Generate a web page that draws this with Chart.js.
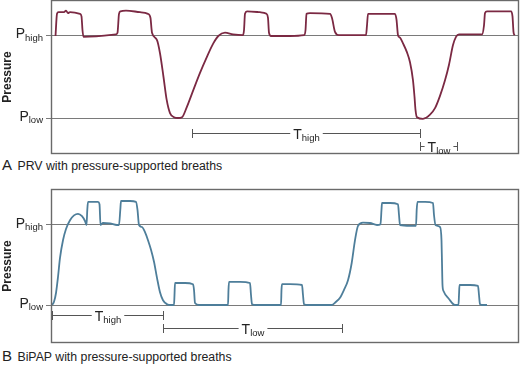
<!DOCTYPE html>
<html>
<head>
<meta charset="utf-8">
<script src="https://cdn.jsdelivr.net/npm/chart.js@4.4.1/dist/chart.umd.min.js"></script>
<style>
  body { margin: 0; background: #fff; width: 520px; height: 365px; position: relative; overflow: hidden;
         font-family: 'Liberation Sans', Arial, sans-serif; color: #222; }
  canvas { position: absolute; left: 0; }
  .cap { position: absolute; left: 2px; font-size: 12.3px; line-height: 17px; white-space: nowrap; }
  .cap span { font-size: 15px; margin-right: 2px; }
</style>
</head>
<body>
<canvas id="prvChart" width="520" height="156" style="top:0"></canvas>
<div class="cap" style="top:156px"><span>A</span> PRV with pressure-supported breaths</div>
<canvas id="bipapChart" width="520" height="158" style="top:188px"></canvas>
<div class="cap" style="top:347px"><span>B</span> BiPAP with pressure-supported breaths</div>
<script>
// pressure levels (arbitrary units, P_low = 0, P_high = 10)
const pressureLevels = [0, 10];
const levelNames = ['low', 'high'];

// A: PRV with pressure-supported breaths
const timeA = [4.5, 6, 7.5, 13, 15, 17, 19, 29, 30.5, 31.5, 32.5, 65, 66.5, 68, 69.5, 75, 89, 97, 99.5, 100.5,
  101, 106, 109, 112.5, 115.7, 119, 123, 127, 131, 135.7, 142.3, 149, 155.7, 162.3, 167.3, 174, 182, 192,
  193, 194, 196, 209, 215.5, 217, 218, 220, 239, 253, 254.5, 255.5, 259, 279, 281, 284, 288,
  315, 316, 317, 329, 344, 345.5, 347, 349, 352, 356, 359, 362, 363.5, 364.5, 366, 372, 379, 384, 389,
  394, 398, 402, 405, 408, 419, 431, 433, 434, 436, 449, 460, 461.5, 462.5, 463.5];
const pressureA = [10, 12.7, 12.9, 12.9, 13.1, 12.8, 12.9, 12.7, 12.4, 10.7, 9.9, 10.2, 10.4, 12.7, 13.0, 13.1, 12.9, 12.7, 12.2, 10.9,
  10.4, 9.5, 7.9, 5.0, 2.2, 0.6, 0.1, 0, 0.1, 1.3, 3.4, 5.5, 7.4, 9.1, 10.0, 10.4, 10.2, 10.1,
  10.7, 12.7, 13.0, 12.9, 12.7, 12.2, 10.4, 10.0, 10.0, 10.1, 10.7, 12.7, 12.8, 12.7, 12.2, 10.5, 10.1,
  10.1, 11.3, 12.7, 12.7, 12.7, 12.0, 10.1, 9.8, 9.1, 8.0, 6.8, 4.6, 2.6, 1.0, 0.1, -0.1, 0.4, 1.2, 2.7,
  4.6, 6.5, 8.9, 9.9, 10.2, 10.2, 10.2, 11.3, 12.8, 13.0, 13.0, 13.0, 12.4, 10.5, 10.1];

// B: BiPAP with pressure-supported breaths
const timeB = [1, 3, 5, 7, 9, 12, 15, 19, 23, 27, 31, 34, 35.5, 36.3, 37, 42, 47, 48.5, 49.5, 52, 59, 66,
  68, 69.3, 70, 79, 85, 86.5, 88, 91, 94, 97, 100, 103, 106, 109, 112, 116, 120,
  123, 123.5, 124, 134, 142, 143, 144, 148, 177, 177.5, 178, 189, 199, 200, 201, 205,
  230, 230.5, 231, 239, 251, 252, 253, 257, 280.7, 285, 289, 293, 297, 300.7, 304, 307, 312, 319, 326,
  329.5, 330.5, 331, 339, 347, 348, 349, 359, 365, 365.7, 366.5, 374, 382, 383, 384.5, 389, 390.5, 391,
  391.5, 392.5, 398, 404, 407.5, 408, 408.5, 419, 427, 428, 429, 432, 436];
const pressureB = [0, 0.4, 1.5, 3.5, 5.9, 8.1, 9.5, 10.6, 11.2, 11.4, 11.1, 10.5, 10.0, 11.9, 12.9, 12.9, 12.9, 12.6, 10.0, 10.25, 10.2, 10.0,
  10.0, 11.9, 13.0, 13.0, 12.9, 11.9, 10.0, 9.75, 9.1, 8.1, 6.9, 5.4, 3.4, 1.6, 0.6, 0.1, 0,
  0, 1.25, 2.75, 2.75, 2.6, 1.9, 0.25, 0, 0, 1.9, 2.9, 2.9, 2.75, 1.25, 0.1, 0,
  0, 1.9, 2.6, 2.6, 2.5, 1.25, 0.1, 0, 0, 0.4, 0.9, 1.9, 3.1, 5.25, 8.1, 9.9, 10.3, 10.25, 10.0,
  10.1, 11.9, 12.75, 12.75, 12.6, 11.25, 10.0, 9.9, 9.9, 11.9, 12.9, 12.9, 12.75, 11.25, 10.0, 9.75, 8.1, 5.25,
  2.5, 1.75, 0.75, 0, 0, 1.25, 2.5, 2.5, 2.4, 1.25, 0.1, 0, 0];

// time brackets under each trace
const phaseNames = ['high', 'low'];
const phaseStartA = [141, 369];
const phaseEndA = [369, 406];
const phaseLevelA = [-1.83, -3.41];
const phaseStartB = [1, 112];
const phaseEndB = [112, 291];
const phaseLevelB = [-1.3, -2.9];

const FONT = "'Liberation Sans', Arial, sans-serif";
Chart.defaults.font.family = FONT;

function drawSub(ctx, main, sub, x, y, align, mainOff, subOff) {
  ctx.font = '14px ' + FONT;
  const w1 = ctx.measureText(main).width;
  ctx.font = '9.5px ' + FONT;
  const w2 = ctx.measureText(sub).width;
  const w = w1 + w2;
  const start = align === 'right' ? x - w : align === 'center' ? x - w / 2 : x;
  ctx.textAlign = 'left';
  ctx.textBaseline = 'alphabetic';
  ctx.font = '14px ' + FONT;
  ctx.fillText(main, start, y + mainOff);
  ctx.font = '9.5px ' + FONT;
  ctx.fillText(sub, start + w1, y + subOff);
  return [start, start + w];
}

function decor(starts, ends, levels) {
  return {
    id: 'decor',
    afterDatasetsDraw(chart) {
      const { ctx, chartArea: a, scales: { x, y } } = chart;
      ctx.save();
      // frame
      ctx.strokeStyle = '#6a6a6a';
      ctx.lineWidth = 1.4;
      ctx.strokeRect(Math.round(a.left) + 0.5, Math.round(a.top) + 0.5,
        Math.round(a.right - a.left) - 1, Math.round(a.bottom - a.top) - 1);
      // P labels
      ctx.fillStyle = '#222';
      pressureLevels.forEach((v, i) => {
        drawSub(ctx, 'P', levelNames[i], 43, y.getPixelForValue(v), 'right', 2.5, 5);
      });
      // T brackets
      ctx.strokeStyle = '#555';
      ctx.lineWidth = 1;
      starts.forEach((s, i) => {
        const x1 = Math.round(x.getPixelForValue(s)) + 0.5;
        const x2 = Math.round(x.getPixelForValue(ends[i])) + 0.5;
        const yy = Math.round(y.getPixelForValue(levels[i])) + 0.5;
        const [t1, t2] = drawSub(ctx, 'T', phaseNames[i], (x1 + x2) / 2, yy, 'center', 5, 7.5);
        ctx.beginPath();
        ctx.moveTo(x1, yy); ctx.lineTo(t1 - 3, yy);
        ctx.moveTo(t2 + 3, yy); ctx.lineTo(x2, yy);
        ctx.moveTo(x1, yy - 4.5); ctx.lineTo(x1, yy + 4.5);
        ctx.moveTo(x2, yy - 4.5); ctx.lineTo(x2, yy + 4.5);
        ctx.stroke();
      });
      ctx.restore();
    }
  };
}

function makePanel(id, times, values, color, yMin, yMax, pad, starts, ends, levels) {
  return new Chart(document.getElementById(id), {
    type: 'line',
    data: {
      datasets: [{
        data: times.map((t, i) => ({ x: t, y: values[i] })),
        borderColor: color,
        borderWidth: 1.8,
        pointRadius: 0,
        cubicInterpolationMode: 'monotone',
        fill: false
      }]
    },
    options: {
      responsive: false,
      animation: false,
      layout: { padding: pad },
      scales: {
        x: { type: 'linear', min: 0, max: 468, display: false },
        y: {
          min: yMin,
          max: yMax,
          afterBuildTicks: s => { s.ticks = pressureLevels.map(v => ({ value: v })); },
          afterFit: s => { s.width = 51; },
          ticks: { display: false },
          grid: { color: '#7a7a7a', lineWidth: 1, tickLength: 5 },
          border: { display: false },
          title: {
            display: true,
            text: 'Pressure',
            color: '#222',
            font: { size: 12, weight: 'bold' },
            padding: { top: 0, bottom: 0 }
          }
        }
      },
      plugins: { legend: { display: false }, tooltip: { enabled: false } }
    },
    plugins: [decor(starts, ends, levels)]
  });
}

makePanel('prvChart', timeA, pressureA, '#7b2943', -4.39, 14.39,
  { top: 0, right: 1, bottom: 2, left: 0 }, phaseStartA, phaseEndA, phaseLevelA);
makePanel('bipapChart', timeB, pressureB, '#4e7e9a', -4.75, 14.5,
  { top: 1, right: 1, bottom: 3, left: 0 }, phaseStartB, phaseEndB, phaseLevelB);
</script>
</body>
</html>
